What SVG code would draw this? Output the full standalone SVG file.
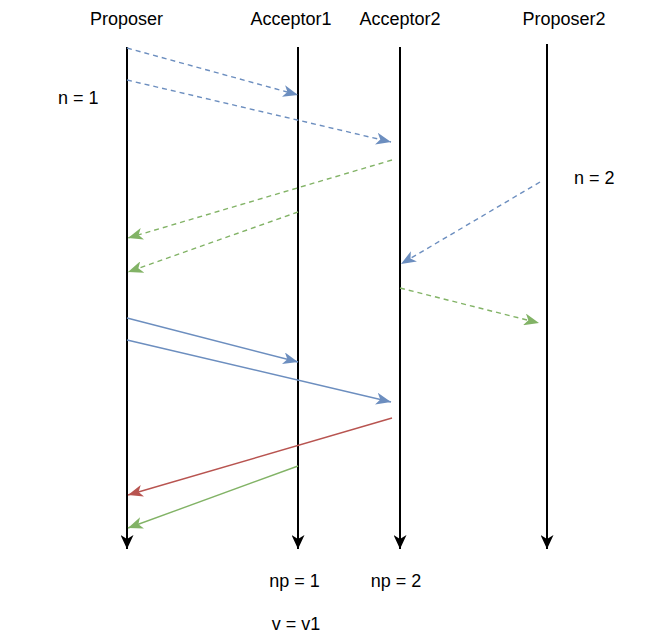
<svg xmlns="http://www.w3.org/2000/svg" width="661" height="644" viewBox="0 0 661 644">
<style>
text{font-family:"Liberation Sans",Arial,sans-serif;font-size:18px;fill:#000}
.c{text-anchor:middle}
.life{stroke:#000;stroke-width:2;fill:none}
.m{fill:none;stroke-width:1.4}
.d{stroke-dasharray:5 4}
.b{stroke:#6c8ebf}
.g{stroke:#82b366}
.r{stroke:#b85450}
</style>
<defs>
<marker id="ak" viewBox="0 0 14 13" refX="14" refY="6.5" markerWidth="14" markerHeight="13" markerUnits="userSpaceOnUse" orient="auto"><path d="M0,0 L14,6.5 L0,13 L4,6.5 Z" fill="#000"/></marker>
<marker id="ab" viewBox="0 0 15 12" refX="15" refY="6" markerWidth="15" markerHeight="12" markerUnits="userSpaceOnUse" orient="auto"><path d="M0,0 L15,6 L0,12 L4,6 Z" fill="#6c8ebf"/></marker>
<marker id="ag" viewBox="0 0 15 12" refX="15" refY="6" markerWidth="15" markerHeight="12" markerUnits="userSpaceOnUse" orient="auto"><path d="M0,0 L15,6 L0,12 L4,6 Z" fill="#82b366"/></marker>
<marker id="ar" viewBox="0 0 15 12" refX="15" refY="6" markerWidth="15" markerHeight="12" markerUnits="userSpaceOnUse" orient="auto"><path d="M0,0 L15,6 L0,12 L4,6 Z" fill="#b85450"/></marker>
</defs>
<g id="proposer"><text class="c" x="126.5" y="25">Proposer</text><line class="life" x1="127" y1="47" x2="127" y2="549" marker-end="url(#ak)"/></g>
<g id="acceptor1"><text class="c" x="291" y="25">Acceptor1</text><line class="life" x1="298" y1="47" x2="298" y2="549" marker-end="url(#ak)"/></g>
<g id="acceptor2"><text class="c" x="400" y="25">Acceptor2</text><line class="life" x1="400" y1="47" x2="400" y2="549" marker-end="url(#ak)"/></g>
<g id="proposer2"><text class="c" x="564" y="25">Proposer2</text><line class="life" x1="547" y1="44" x2="547" y2="549" marker-end="url(#ak)"/></g>
<g id="labels">
<text x="58" y="104">n = 1</text>
<text x="574" y="184">n = 2</text>
<text class="c" x="294.5" y="587">np = 1</text>
<text class="c" x="396" y="587">np = 2</text>
<text class="c" x="296" y="630">v = v1</text>
</g>
<g id="connectors">
<line class="m d b" x1="127" y1="48" x2="298" y2="95" marker-end="url(#ab)"/>
<line class="m d b" x1="127" y1="80" x2="391" y2="142" marker-end="url(#ab)"/>
<line class="m d g" x1="392" y1="160" x2="128" y2="238" marker-end="url(#ag)"/>
<line class="m d g" x1="298" y1="212" x2="128" y2="272" marker-end="url(#ag)"/>
<line class="m d b" x1="540" y1="182" x2="401" y2="264" marker-end="url(#ab)"/>
<line class="m d g" x1="400" y1="288" x2="539" y2="323" marker-end="url(#ag)"/>
<line class="m b" x1="127" y1="318" x2="298" y2="362" marker-end="url(#ab)"/>
<line class="m b" x1="127" y1="340" x2="391" y2="402" marker-end="url(#ab)"/>
<line class="m r" x1="392" y1="418" x2="128" y2="495" marker-end="url(#ar)"/>
<line class="m g" x1="298" y1="466" x2="128" y2="528" marker-end="url(#ag)"/>
</g>
</svg>
